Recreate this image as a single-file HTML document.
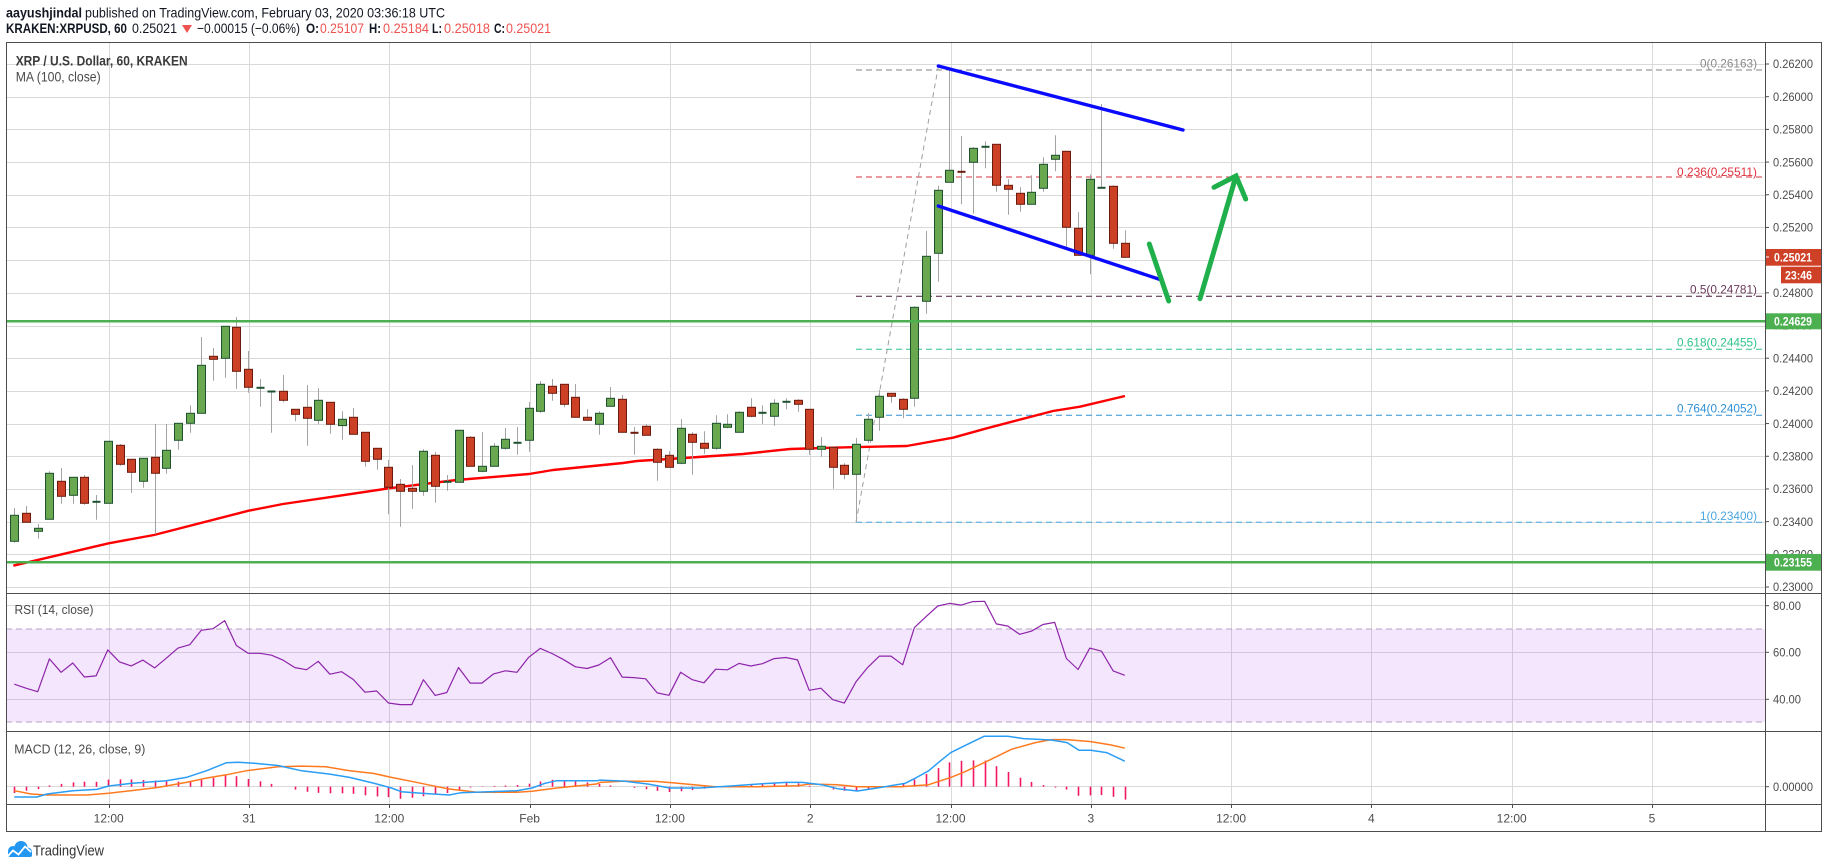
<!DOCTYPE html>
<html><head><meta charset="utf-8">
<style>
html,body{margin:0;padding:0;background:#fff;}
svg{display:block;font-family:"Liberation Sans",Arial,sans-serif;}
</style></head><body>
<svg id="s" width="1828" height="868" viewBox="0 0 1828 868" xmlns="http://www.w3.org/2000/svg">
<rect width="1828" height="868" fill="#fff"/>
<g id="grid"></g>
<!-- RSI band -->
<rect x="6" y="629" width="1759" height="93" fill="rgba(160,60,240,0.13)"/>
<line x1="6" y1="629" x2="1765" y2="629" stroke="#b7a3c4" stroke-width="1" stroke-dasharray="6 4"/>
<line x1="6" y1="722" x2="1765" y2="722" stroke="#b7a3c4" stroke-width="1" stroke-dasharray="6 4"/>

<!-- Fib lines -->
<g stroke-width="1" stroke-dasharray="6 4" fill="none">
<line x1="856" y1="70" x2="1765" y2="70" stroke="#808080"/>
<line x1="856" y1="177" x2="1765" y2="177" stroke="#d9333f"/>
<line x1="856" y1="296.3" x2="1765" y2="296.3" stroke="#4d1a3a"/>
<line x1="856" y1="349.3" x2="1765" y2="349.3" stroke="#2fc38a"/>
<line x1="856" y1="415.3" x2="1765" y2="415.3" stroke="#3191d6"/>
<line x1="856" y1="522.3" x2="1765" y2="522.3" stroke="#4aa6e0"/>
</g>
<line x1="856" y1="522.3" x2="938.3" y2="66.7" stroke="#9e9e9e" stroke-width="1" stroke-dasharray="5 4"/>
<g font-size="12" id="fibtxt">
<text x="1700" y="67.5" fill="#8a8a8a" textLength="57" lengthAdjust="spacingAndGlyphs">0(0.26163)</text>
<text x="1677" y="176" fill="#e0313d" textLength="80" lengthAdjust="spacingAndGlyphs">0.236(0.25511)</text>
<text x="1690" y="293.5" fill="#6a3a5a" textLength="67" lengthAdjust="spacingAndGlyphs">0.5(0.24781)</text>
<text x="1677" y="346.5" fill="#2fc38a" textLength="80" lengthAdjust="spacingAndGlyphs">0.618(0.24455)</text>
<text x="1677" y="412.5" fill="#3191d6" textLength="80" lengthAdjust="spacingAndGlyphs">0.764(0.24052)</text>
<text x="1700" y="520" fill="#4aa6e0" textLength="57" lengthAdjust="spacingAndGlyphs">1(0.23400)</text>
</g>

<g id="ma"></g>
<g id="candles"></g>

<!-- Horizontal green support/resistance -->
<line x1="6" y1="321.3" x2="1765" y2="321.3" stroke="#4caf50" stroke-width="2.5"/>
<line x1="6" y1="562.3" x2="1765" y2="562.3" stroke="#4caf50" stroke-width="2.5"/>

<!-- Blue channel lines -->
<line x1="938.3" y1="66" x2="1183" y2="130" stroke="#0a0aff" stroke-width="3.4" stroke-linecap="round"/>
<line x1="938.3" y1="206" x2="1159.3" y2="279.3" stroke="#0a0aff" stroke-width="3.4" stroke-linecap="round"/>

<!-- Green arrows -->
<g stroke="#1fb04b" stroke-width="5" stroke-linecap="round" fill="none">
<line x1="1149.3" y1="244" x2="1168.7" y2="301"/>
<line x1="1200" y1="298.7" x2="1236" y2="176"/>
<polyline points="1214,187.3 1236,176 1245.7,199"/>
</g>

<g id="rsi"></g>
<g id="macd"></g>

<!-- Pane text labels -->
<text x="15.7" y="65.5" font-size="14" font-weight="bold" fill="#3a3a3a" textLength="172" lengthAdjust="spacingAndGlyphs">XRP / U.S. Dollar, 60, KRAKEN</text>
<text x="15.7" y="81.5" font-size="14" fill="#4a4a4a" textLength="85" lengthAdjust="spacingAndGlyphs">MA (100, close)</text>
<text x="14.5" y="614" font-size="13" fill="#4a4a4a" textLength="79" lengthAdjust="spacingAndGlyphs">RSI (14, close)</text>
<text x="14.3" y="753.5" font-size="13" fill="#4a4a4a" textLength="131" lengthAdjust="spacingAndGlyphs">MACD (12, 26, close, 9)</text>

<!-- Header -->
<text x="6" y="17.5" font-size="14" font-weight="bold" fill="#131722" textLength="76" lengthAdjust="spacingAndGlyphs">aayushjindal</text>
<text x="85" y="17.5" font-size="14" fill="#131722" textLength="360" lengthAdjust="spacingAndGlyphs">published on TradingView.com, February 03, 2020 03:36:18 UTC</text>
<g font-size="14" fill="#131722">
<text x="6" y="33" font-weight="bold" textLength="121" lengthAdjust="spacingAndGlyphs">KRAKEN:XRPUSD, 60</text>
<text x="132" y="33" textLength="45" lengthAdjust="spacingAndGlyphs">0.25021</text>
<polygon points="182,25 192,25 187,33" fill="#ef5350"/>
<text x="197" y="33" textLength="103" lengthAdjust="spacingAndGlyphs">−0.00015 (−0.06%)</text>
<text x="306" y="33" font-weight="bold" textLength="13" lengthAdjust="spacingAndGlyphs">O:</text>
<text x="320" y="33" fill="#ef5350" textLength="44" lengthAdjust="spacingAndGlyphs">0.25107</text>
<text x="369" y="33" font-weight="bold" textLength="12" lengthAdjust="spacingAndGlyphs">H:</text>
<text x="383" y="33" fill="#ef5350" textLength="46" lengthAdjust="spacingAndGlyphs">0.25184</text>
<text x="432" y="33" font-weight="bold" textLength="10" lengthAdjust="spacingAndGlyphs">L:</text>
<text x="444" y="33" fill="#ef5350" textLength="46" lengthAdjust="spacingAndGlyphs">0.25018</text>
<text x="494" y="33" font-weight="bold" textLength="11" lengthAdjust="spacingAndGlyphs">C:</text>
<text x="506" y="33" fill="#ef5350" textLength="45" lengthAdjust="spacingAndGlyphs">0.25021</text>
</g>

<!-- axis labels -->
<g id="axis" font-size="12" fill="#4d4d4d"></g>

<!-- price axis special boxes -->
<rect x="1765" y="249" width="57" height="16.7" fill="#cf4127"/>
<line x1="1765" y1="257" x2="1769" y2="257" stroke="#fff" stroke-width="1"/>
<text x="1774" y="261.5" font-size="12" font-weight="bold" fill="#fff" textLength="38" lengthAdjust="spacingAndGlyphs">0.25021</text>
<rect x="1781" y="266.7" width="41" height="16.6" fill="#cf4127"/>
<text x="1785" y="279.5" font-size="12" font-weight="bold" fill="#fff" textLength="27" lengthAdjust="spacingAndGlyphs">23:46</text>
<rect x="1765" y="313.3" width="57" height="16" fill="#4caf50"/>
<text x="1774" y="325.5" font-size="12" font-weight="bold" fill="#fff" textLength="38" lengthAdjust="spacingAndGlyphs">0.24629</text>
<rect x="1765" y="554" width="57" height="16.7" fill="#4caf50"/>
<text x="1774" y="566.5" font-size="12" font-weight="bold" fill="#fff" textLength="38" lengthAdjust="spacingAndGlyphs">0.23155</text>

<!-- borders -->
<g stroke="#4d4d4d" stroke-width="1" fill="none">
<rect x="6.5" y="42.5" width="1815" height="789"/>
<line x1="1765.5" y1="42.5" x2="1765.5" y2="831.5"/>
<line x1="6.5" y1="593.5" x2="1821.5" y2="593.5"/>
<line x1="6.5" y1="731.5" x2="1821.5" y2="731.5"/>
<line x1="6.5" y1="804.5" x2="1821.5" y2="804.5"/>
</g>

<!-- TradingView logo -->
<g>
<circle cx="13" cy="851" r="5" fill="#2196f3"/>
<circle cx="21" cy="847.5" r="6.5" fill="#2196f3"/>
<circle cx="27.5" cy="852" r="4.5" fill="#2196f3"/>
<rect x="8" y="851" width="24" height="6" rx="2" fill="#2196f3"/>
<polyline points="7,857 13,850.5 18.5,854.5 25,846.5 31,852" stroke="#fff" stroke-width="1.8" fill="none"/>
<text x="33" y="855.5" font-size="15" fill="#333" textLength="71" lengthAdjust="spacingAndGlyphs">TradingView</text>
</g>
</svg>
<script>
(function(){
var NS="http://www.w3.org/2000/svg";
function el(tag,a,p){var e=document.createElementNS(NS,tag);for(var k in a)e.setAttribute(k,a[k]);p.appendChild(e);return e;}
function g(id){return document.getElementById(id);}
var grid=g("grid");
// vertical grid
var gx=[];
for(var k=0;k<12;k++){gx.push(108.7+140.3*k);}
gx.forEach(function(x){var xx=Math.round(x)+0.5;el("line",{x1:xx,y1:42,x2:xx,y2:804,stroke:"#d9d9d9","stroke-width":1},grid);});
// price grid
function py(p){return 64+(0.262-p)*16344;}
for(var i=0;i<=16;i++){var p=0.230+0.002*i;var y=Math.round(py(p))+0.5;el("line",{x1:6,y1:y,x2:1765,y2:y,stroke:"#d9d9d9","stroke-width":1},grid);}
// rsi grid
[80,60,40].forEach(function(v){var y=Math.round(652.3-(v-60)*2.35)+0.5;el("line",{x1:6,y1:y,x2:1765,y2:y,stroke:"#d9d9d9","stroke-width":1},grid);});
el("line",{x1:6,y1:786.5,x2:1765,y2:786.5,stroke:"#d9d9d9","stroke-width":1},grid);

// axis labels
var ax=g("axis");
for(var i=0;i<=16;i++){var p=0.230+0.002*i;var y=py(p);
 el("line",{x1:1765,y1:y,x2:1769,y2:y,stroke:"#4d4d4d","stroke-width":1},ax);
 var t=el("text",{x:1773,y:(y+4.2).toFixed(1),textLength:40,lengthAdjust:"spacingAndGlyphs"},ax);t.textContent=p.toFixed(5);}
[[80,605.7],[60,652.3],[40,699.3]].forEach(function(r){
 el("line",{x1:1765,y1:r[1],x2:1769,y2:r[1],stroke:"#4d4d4d","stroke-width":1},ax);
 var t=el("text",{x:1773,y:(r[1]+4.2).toFixed(1),textLength:28,lengthAdjust:"spacingAndGlyphs"},ax);t.textContent=r[0].toFixed(2);});
el("line",{x1:1765,y1:786.7,x2:1769,y2:786.7,stroke:"#4d4d4d","stroke-width":1},ax);
var t0=el("text",{x:1773,y:790.9,textLength:40,lengthAdjust:"spacingAndGlyphs"},ax);t0.textContent="0.00000";
var tl=["12:00","31","12:00","Feb","12:00","2","12:00","3","12:00","4","12:00","5"];
gx.forEach(function(x,i){
 el("line",{x1:Math.round(x)+0.5,y1:804,x2:Math.round(x)+0.5,y2:808,stroke:"#4d4d4d","stroke-width":1},ax);
 var t=el("text",{x:x.toFixed(1),y:822.5,"text-anchor":"middle"},ax);t.textContent=tl[i];});

// candles
var A=[[646,724,624,728,1],[640,667,618,667,0],[685,694,672,716,1],[520,658,514,658,1],[544,589,504,611,0],[532,586,532,611,1],[532,610,525,614,0],[604,607,585,659,1],[424,610,424,610,1],[436,493,432,497,0],[478,517,478,578,0],[475,544,475,563,1],[472,520,372,703,0],[451,505,372,521,1],[370,421,370,449,1],[340,370,316,398,1],[196,340,111,340,1],[169,178,144,242,0],[79,175,79,233,1],[82,214,51,266,0],[208,262,153,278,0],[262,268,237,320,1],[273,274,273,398,1],[274,301,225,307,0],[328,343,328,364,0],[322,355,255,437,0],[301,361,264,373,1],[307,373,307,401,0],[358,377,334,419,1],[352,403,324,403,0],[397,484,397,500,0],[445,478,445,509,0],[502,562,480,643,0],[553,574,537,680,0],[565,574,495,626,0],[454,574,448,587,1],[466,559,457,608,0],[544,550,525,572,1],[391,547,391,547,1],[412,499,408,499,0],[499,514,396,517,1],[439,499,430,499,1],[418,445,384,449,1],[427,428,381,464,1],[325,421,306,455,1],[253,334,243,338,1],[259,280,237,302,0],[253,313,253,322,0],[292,352,252,352,0],[352,361,327,361,0],[340,373,334,404,1],[295,319,261,319,1],[298,397,285,397,0],[397,400,381,464,0],[379,406,373,406,0],[448,487,445,542,0],[466,502,454,502,0],[385,490,357,493,1],[403,427,397,524,0],[430,445,394,461,0],[370,445,346,449,1],[373,382,343,385,1],[337,397,334,397,1],[322,349,295,352,0],[337,343,316,372,1],[310,349,298,377,1],[304,307,295,328,1]];
var B=[[1081,1093,1078,1115,0],[1108,1228,1108,1245,0],[1219,1228,1191,1250,1],[1222,1282,1222,1346,0],[1276,1303,1270,1318,0],[1213,1303,1194,1447,1],[1138,1201,1120,1210,1],[1069,1132,1050,1172,1],[1060,1069,1060,1088,0],[1078,1108,1075,1135,0],[802,1075,799,1100,1],[649,784,573,821,1],[451,640,437,725,1],[391,427,85,427,1],[394,400,288,493,0],[325,367,322,521,1],[319,325,304,385,1],[313,436,313,455,0],[436,448,418,524,0],[460,493,442,515,0],[457,493,406,493,1],[373,445,352,455,1],[346,358,286,394,1],[334,562,334,625,0],[565,646,517,646,0],[418,646,403,703,1],[442,445,192,445,1],[439,610,436,626,0],[610,652,571,652,0]];
var C=[];
A.forEach(function(c){C.push([300+c[0]/3,300+c[1]/3,300+c[2]/3,300+c[3]/3,c[4]]);});
B.forEach(function(c){C.push([40+c[0]/3,40+c[1]/3,40+c[2]/3,40+c[3]/3,c[4]]);});
function cx(i){return 14.3+11.69*i;}
var cg=g("candles");
C.forEach(function(c,i){
 var x=Math.round(cx(i));
 el("line",{x1:x+0.5,y1:c[2].toFixed(1),x2:x+0.5,y2:c[3].toFixed(1),stroke:"#a3a3a3","stroke-width":1},cg);
 var h=c[1]-c[0];
 var fill=c[4]?"#6aa84f":"#cc4125", st=c[4]?"#1e5130":"#6b1a0e";
 if(h<2.2){
  el("rect",{x:x-3.5,y:(c[0]-0.5).toFixed(1),width:8,height:2,fill:st},cg);
 } else {
  el("rect",{x:x-3.5,y:c[0].toFixed(1),width:8,height:h.toFixed(1),fill:fill,stroke:st,"stroke-width":1},cg);
 }
});
// MA
var ma=[[13.3,565.7],[108.7,543.3],[154,535],[248.7,510.7],[283,504],[333,496.7],[389,488.3],[456.7,480],[529,474],[553,470],[623,463],[637,461],[669,459],[743,454],[790,449],[846.7,447.3],[906.7,446],[953,437.7],[986.7,428.3],[1053,411],[1080,406.7],[1125,396]];
el("polyline",{points:ma.map(function(p){return p.join(",");}).join(" "),fill:"none",stroke:"#ff0000","stroke-width":2.4,"stroke-linejoin":"round"},g("ma"));

// RSI
var closes=C.map(function(c){return c[4]?c[0]:c[1];});
var ag=6.5,al=7.5,rs=[];
rs.push(100-100/(1+ag/al));
for(var i=1;i<closes.length;i++){
 var ch=closes[i-1]-closes[i];var gg=ch>0?ch:0,ll=ch<0?-ch:0;
 ag=(ag*13+gg)/14;al=(al*13+ll)/14;rs.push(al==0?100:100-100/(1+ag/al));}
var rp=rs.map(function(v,i){return cx(i).toFixed(1)+","+(652.3-(v-60)*2.35).toFixed(1);});
el("polyline",{points:rp.join(" "),fill:"none",stroke:"#8e24aa","stroke-width":1.2,"stroke-linejoin":"round"},g("rsi"));

// MACD
function m5(p){return [108.7+(p[0]-275)*0.3982,786.7+(p[1]-258)*0.3315];}
function m6(p){return [669.9+(p[0]-176)*0.3956,786.7+(p[1]-258)*0.3315];}
var b5=[[38,289],[95,289],[120,280],[185,270],[245,266],[275,256],[330,248],[420,240],[470,230],[520,210],[570,186],[600,184],[640,187],[700,194],[760,210],[830,220],[880,230],[940,247],[985,262],[1010,273],[1060,278],[1130,283],[1160,276],[1230,273],[1300,270],[1338,262],[1370,248],[1400,240],[1500,240]];
var b6=[[0,238],[60,241],[120,250],[176,262],[250,262],[330,256],[400,250],[470,245],[510,245],[560,252],[600,264],[650,271],[700,262],[770,248],[800,230],[830,210],[860,180],[886,155],[920,135],[970,106],[1030,106],[1070,113],[1140,117],[1180,125],[1210,148],[1240,148],[1280,155],[1326,181]];
var o5=[[38,270],[80,280],[120,283],[220,283],[275,278],[330,270],[400,260],[470,245],[520,232],[570,222],[620,210],[700,198],[760,196],[820,198],[880,210],[940,218],[985,230],[1040,243],[1100,258],[1130,265],[1200,275],[1300,275],[1338,272],[1400,262],[1500,250]];
var o6=[[0,245],[60,241],[140,242],[200,248],[290,258],[400,258],[500,255],[530,250],[600,252],[650,258],[760,258],[830,252],[886,230],[920,214],[980,180],[1040,145],[1100,125],[1140,116],[1180,116],[1240,122],[1290,132],[1326,142]];
var blue=b5.map(m5).concat(b6.map(m6)), orange=o5.map(m5).concat(o6.map(m6));
function interp(arr,x){if(x<=arr[0][0])return arr[0][1];for(var i=1;i<arr.length;i++){if(x<=arr[i][0]){var a=arr[i-1],b=arr[i];return a[1]+(b[1]-a[1])*(x-a[0])/(b[0]-a[0]);}}return arr[arr.length-1][1];}
var mg=g("macd");
for(var i=0;i<C.length;i++){
 var x=cx(i);var d=interp(blue,x)-interp(orange,x);
 if(Math.abs(d)<0.4)continue;
 var xx=Math.round(x)+0.5;
 el("line",{x1:xx,y1:786.7,x2:xx,y2:(786.7+d).toFixed(1),stroke:"#f2175f","stroke-width":1.6},mg);
}
el("polyline",{points:orange.map(function(p){return p[0].toFixed(1)+","+p[1].toFixed(1);}).join(" "),fill:"none",stroke:"#ff7a1f","stroke-width":1.5,"stroke-linejoin":"round"},mg);
el("polyline",{points:blue.map(function(p){return p[0].toFixed(1)+","+p[1].toFixed(1);}).join(" "),fill:"none",stroke:"#2a9df4","stroke-width":1.5,"stroke-linejoin":"round"},mg);
})();
</script>
</body></html>
